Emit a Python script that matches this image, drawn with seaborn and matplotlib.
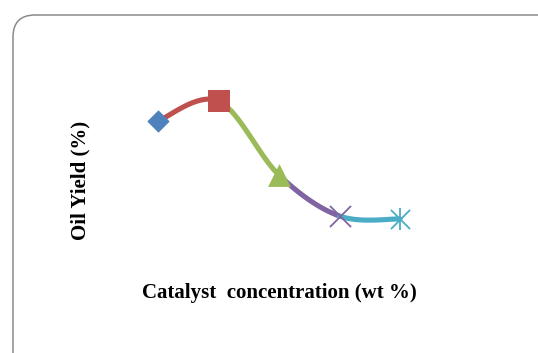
import numpy as np
import pandas as pd
import matplotlib
matplotlib.use("Agg")
import matplotlib.pyplot as plt
from matplotlib.patches import FancyBboxPatch
from matplotlib.transforms import IdentityTransform
import seaborn as sns

# data (no ticks on the original, units are relative)
catalyst = [1, 2, 3, 4, 5]
oil_yield = [83.9, 90.0, 67.4, 54.9, 54.0]
series = ["S1", "S2", "S3", "S4", "S5"]
colors = ["#4F81BD", "#C0504D", "#9BBB59", "#8064A2", "#4BACC6"]
markers = ["D", "s", "^", "x", "x"]
marker_sizes = [130, 250, 270, 230, 190]

sns.set_theme(style="white")
plt.rcParams["font.family"] = ["Liberation Serif", "DejaVu Serif"]

W, H = 538, 353
fig = plt.figure(figsize=(W / 100, H / 100), dpi=100)

# rounded chart border
border = FancyBboxPatch((13, -25), 560, 363,
                        boxstyle="round,pad=0,rounding_size=22",
                        transform=IdentityTransform(),
                        facecolor="none", edgecolor="#8a8a8a", linewidth=1.1,
                        zorder=-1)
fig.patches.append(border)

# axes box placed so the end points sit where they do in the reference
ax = fig.add_axes([158 / W, (H - 219) / H, (400 - 158) / W, (219 - 101) / H])
ax.set_xlim(min(catalyst), max(catalyst))
ax.set_ylim(min(oil_yield), max(oil_yield))
ax.axis("off")

# smoothed line (Excel-like bezier through the points), one colour per segment
x = np.array(catalyst, dtype=float)
y = np.array(oil_yield, dtype=float)
n = len(x)
t = np.linspace(0, 1, 40)
for i in range(n - 1):
    p0 = np.array([x[max(i - 1, 0)], y[max(i - 1, 0)]])
    p1 = np.array([x[i], y[i]])
    p2 = np.array([x[i + 1], y[i + 1]])
    p3 = np.array([x[min(i + 2, n - 1)], y[min(i + 2, n - 1)]])
    c1 = p1 + (p2 - p0) / 6
    c2 = p2 - (p3 - p1) / 6
    pts = (np.outer((1 - t) ** 3, p1) + np.outer(3 * (1 - t) ** 2 * t, c1)
           + np.outer(3 * (1 - t) * t ** 2, c2) + np.outer(t ** 3, p2))
    seg = pd.DataFrame({"x": pts[:, 0], "y": pts[:, 1]})
    sns.lineplot(data=seg, x="x", y="y", ax=ax, color=colors[i + 1],
                 linewidth=3.7, sort=False, clip_on=False,
                 solid_capstyle="round", legend=False)

df = pd.DataFrame({"catalyst": catalyst, "oil_yield": oil_yield, "series": series})
for i in range(n):
    sub = df.iloc[[i]]
    m = markers[i]
    lw = 1.3 if m == "x" else 0
    sns.scatterplot(data=sub, x="catalyst", y="oil_yield", ax=ax,
                    marker=m, s=marker_sizes[i], color=colors[i],
                    edgecolor=colors[i], linewidth=lw, clip_on=False,
                    zorder=5, legend=False)
# the last marker is an asterisk: an x plus a vertical bar
sns.scatterplot(data=df.iloc[[n - 1]], x="catalyst", y="oil_yield", ax=ax,
                marker="|", s=marker_sizes[-1] * 1.3, color=colors[-1],
                linewidth=1.3, clip_on=False, zorder=5, legend=False)

fig.text(80 / W, 1 - 180 / H, "Oil Yield (%)", rotation=90, ha="center",
         va="center", fontsize=15, fontweight="bold", color="black")
fig.text(279 / W, 1 - 293 / H, "Catalyst  concentration (wt %)", ha="center",
         va="center", fontsize=15, fontweight="bold", color="black")

fig.savefig("out.png", dpi=100)
